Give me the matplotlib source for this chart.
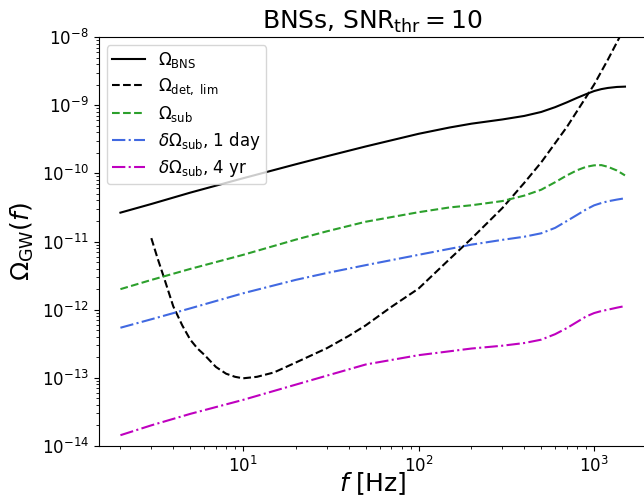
import matplotlib
matplotlib.use("Agg")
import matplotlib.pyplot as plt

# frequency grid shared by the background curves [Hz]
freqs = [2, 3, 5, 10, 20, 30, 50, 100, 150, 200, 300, 400, 500, 600, 700,
         800, 900, 1000, 1100, 1200, 1350, 1500]

omega_bns = [2.65e-11, 3.55e-11, 5.21e-11, 8.47e-11, 1.36e-10, 1.78e-10,
             2.48e-10, 3.80e-10, 4.70e-10, 5.35e-10, 6.17e-10, 6.95e-10,
             7.95e-10, 9.35e-10, 1.10e-9, 1.28e-9, 1.45e-9, 1.61e-9,
             1.72e-9, 1.79e-9, 1.85e-9, 1.87e-9]

omega_sub = [2.0e-12, 2.73e-12, 3.96e-12, 6.37e-12, 1.067e-11, 1.41e-11,
             1.95e-11, 2.69e-11, 3.16e-11, 3.40e-11, 3.92e-11, 4.71e-11,
             5.75e-11, 7.41e-11, 9.33e-11, 1.11e-10, 1.245e-10, 1.31e-10,
             1.32e-10, 1.245e-10, 1.10e-10, 9.33e-11]

domega_1day = [5.43e-13, 7.23e-13, 1.045e-12, 1.74e-12, 2.74e-12, 3.45e-12,
               4.50e-12, 6.38e-12, 7.80e-12, 8.99e-12, 1.057e-11, 1.175e-11,
               1.32e-11, 1.585e-11, 2.0e-11, 2.455e-11, 2.95e-11, 3.39e-11,
               3.67e-11, 3.89e-11, 4.12e-11, 4.31e-11]

domega_4yr = [1.44e-14, 2.01e-14, 2.96e-14, 4.75e-14, 7.96e-14, 1.076e-13,
              1.57e-13, 2.15e-13, 2.45e-13, 2.69e-13, 2.96e-13, 3.24e-13,
              3.63e-13, 4.37e-13, 5.37e-13, 6.61e-13, 7.94e-13, 8.91e-13,
              9.55e-13, 1.0e-12, 1.07e-12, 1.13e-12]

# detection limit curve
freqs_det = [3.0, 3.25, 3.5, 4, 4.5, 5, 5.5, 6, 7, 8, 9, 10, 12, 15, 20, 30,
             40, 50, 70, 100, 150, 200, 300, 400, 500, 700, 1000, 1200, 1500]
omega_det = [1.12e-11, 5.75e-12, 3.24e-12, 1.12e-12, 5.89e-13, 3.63e-13,
             2.69e-13, 2.19e-13, 1.445e-13, 1.15e-13, 1.035e-13, 9.84e-14,
             1.035e-13, 1.20e-13, 1.68e-13, 2.72e-13, 4.12e-13, 5.89e-13,
             1.10e-12, 2.04e-12, 5.50e-12, 1.10e-11, 3.09e-11, 7.24e-11,
             1.45e-10, 4.79e-10, 2.0e-9, 4.68e-9, 1.41e-8]

fig = plt.figure(figsize=(6.44, 4.98), dpi=100)
ax = fig.add_axes([98.5 / 644, 52 / 498, 548.4 / 644, 409 / 498])

ax.loglog(freqs, omega_bns, color='k', ls='-', lw=1.5, label=r'$\Omega_{\rm BNS}$')
ax.loglog(freqs_det, omega_det, color='k', ls='--', lw=1.5,
          label=r'$\Omega_{\rm det,\ lim}$')
ax.loglog(freqs, omega_sub, color='tab:green', ls='--', lw=1.5,
          label=r'$\Omega_{\rm sub}$')
ax.loglog(freqs, domega_1day, color='royalblue', ls='-.', lw=1.5,
          label=r'$\delta\Omega_{\rm sub}$, 1 day')
ax.loglog(freqs, domega_4yr, color='m', ls='-.', lw=1.5,
          label=r'$\delta\Omega_{\rm sub}$, 4 yr')

ax.set_xlim(1.5, 2000)
ax.set_ylim(1e-14, 1e-8)
ax.tick_params(labelsize=12)
ax.set_xlabel(r'$f$ [Hz]', fontsize=18, labelpad=-4)
ax.set_ylabel(r'$\Omega_{\rm GW}(f)$', fontsize=18)
ax.set_title(r'BNSs, $\mathrm{SNR}_{\mathrm{thr}} = 10$', fontsize=18)
ax.legend(loc='upper left', fontsize=12, labelspacing=0.38, borderpad=0.3)

fig.savefig('out.png', dpi=100)
